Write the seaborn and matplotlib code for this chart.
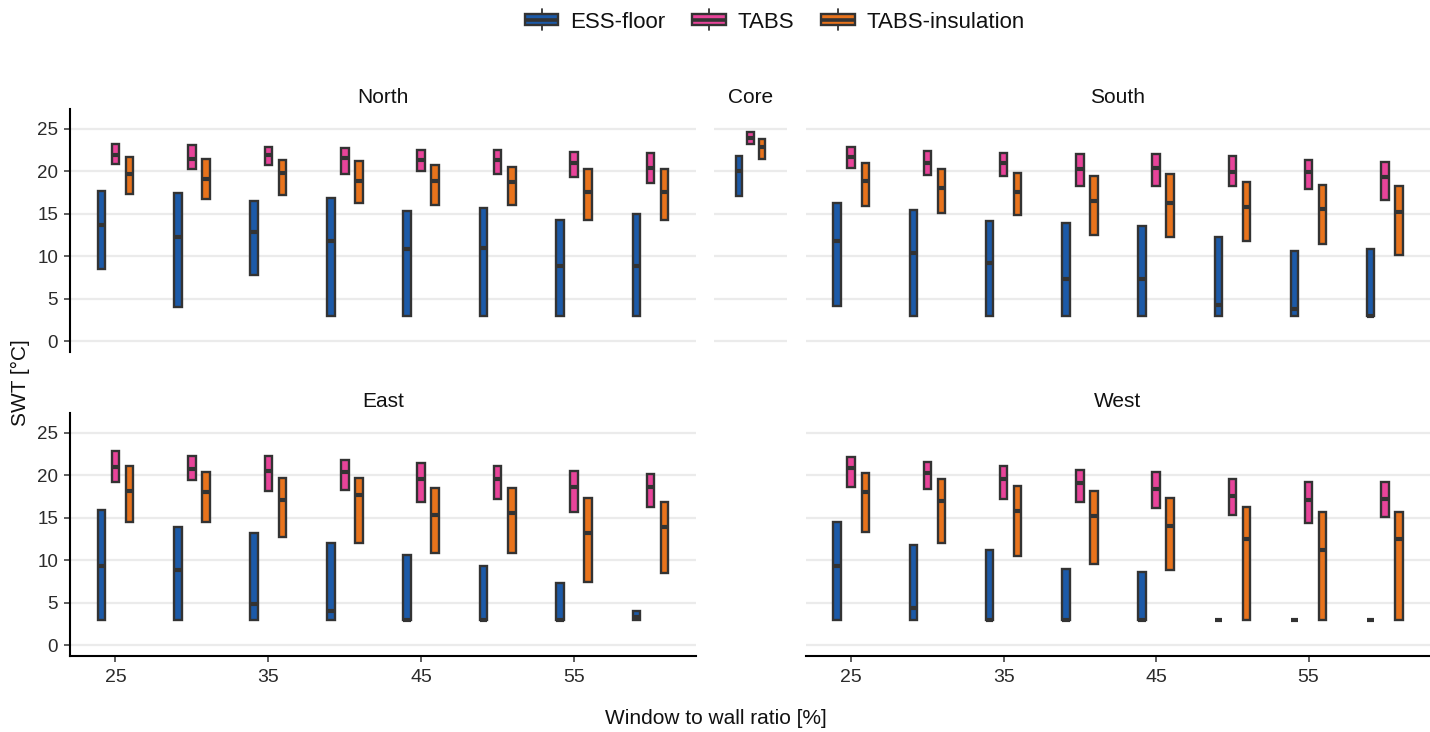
import numpy as np
import pandas as pd
import matplotlib
matplotlib.use("Agg")
import matplotlib.pyplot as plt
from matplotlib.legend_handler import HandlerBase
from matplotlib.patches import Rectangle, Patch
from matplotlib.lines import Line2D
import seaborn as sns

sns.set_theme(style="white")
plt.rcParams["font.family"] = ["Liberation Sans", "DejaVu Sans"]

# ---- data: (low, median, high) supply water temperature per window-to-wall ratio ----
wwr = [25, 30, 35, 40, 45, 50, 55, 60]
systems = ["ESS-floor", "TABS", "TABS-insulation"]
colors = ["#1c5aa8", "#e8449a", "#e8731c"]

north_ess = [(8.55, 13.67, 17.66), (4.0, 12.3, 17.4), (7.8, 12.8, 16.5), (3.0, 11.8, 16.9),
             (3.0, 10.9, 15.35), (3.0, 11.0, 15.7), (3.0, 8.9, 14.3), (3.0, 8.9, 15.0)]
north_tabs = [(20.8, 21.95, 23.2), (20.2, 21.4, 23.1), (20.7, 21.9, 22.8), (19.7, 21.5, 22.7),
              (20.0, 21.3, 22.5), (19.7, 21.3, 22.5), (19.3, 21.0, 22.3), (18.6, 20.4, 22.1)]
north_ins = [(17.3, 19.65, 21.7), (16.7, 19.1, 21.4), (17.15, 19.8, 21.25), (16.2, 18.8, 21.2),
             (16.0, 18.8, 20.7), (16.0, 18.7, 20.5), (14.2, 17.5, 20.2), (14.2, 17.5, 20.2)]

core_ess = [(17.05, 20.0, 21.8)]
core_tabs = [(23.2, 23.9, 24.65)]
core_ins = [(21.4, 22.8, 23.8)]

south_ess = [(4.15, 11.8, 16.3), (3.0, 10.4, 15.4), (3.0, 9.25, 14.1), (3.0, 7.35, 13.9),
             (3.0, 7.35, 13.55), (3.0, 4.3, 12.3), (3.0, 3.8, 10.6), (3.0, 3.0, 10.9)]
south_tabs = [(20.35, 21.7, 22.8), (19.5, 21.0, 22.4), (19.4, 21.0, 22.1), (18.2, 20.3, 22.0),
              (18.2, 20.4, 22.0), (18.2, 19.9, 21.75), (17.85, 19.9, 21.3), (16.55, 19.3, 21.05)]
south_ins = [(15.9, 18.8, 20.9), (15.1, 18.0, 20.2), (14.8, 17.5, 19.8), (12.5, 16.5, 19.4),
             (12.3, 16.3, 19.7), (11.8, 15.8, 18.75), (11.4, 15.6, 18.4), (10.1, 15.2, 18.25)]

east_ess = [(3.0, 9.3, 15.85), (3.0, 8.85, 13.9), (3.0, 4.9, 13.2), (3.0, 4.0, 12.0),
            (3.0, 3.0, 10.6), (3.0, 3.0, 9.3), (3.0, 3.0, 7.35), (3.0, 3.3, 4.0)]
east_tabs = [(19.2, 21.0, 22.8), (19.45, 20.7, 22.3), (18.1, 20.5, 22.2), (18.3, 20.4, 21.8),
             (16.9, 19.6, 21.45), (17.25, 19.55, 21.05), (15.7, 18.55, 20.5), (16.2, 18.55, 20.15)]
east_ins = [(14.45, 18.1, 21.05), (14.45, 18.0, 20.4), (12.7, 17.1, 19.7), (12.0, 17.65, 19.65),
            (10.85, 15.3, 18.5), (10.85, 15.5, 18.5), (7.5, 13.25, 17.3), (8.45, 13.9, 16.8)]

west_ess = [(3.0, 9.3, 14.5), (3.0, 4.4, 11.85), (3.0, 3.0, 11.15), (3.0, 3.0, 8.95),
            (3.0, 3.0, 8.6), (3.0, 3.0, 3.0), (3.0, 3.0, 3.0), (3.0, 3.0, 3.0)]
west_tabs = [(18.6, 20.8, 22.1), (18.35, 20.3, 21.5), (17.15, 19.55, 21.1), (16.8, 19.1, 20.6),
             (16.15, 18.4, 20.35), (15.35, 17.55, 19.5), (14.4, 17.05, 19.25), (15.1, 17.25, 19.2)]
west_ins = [(13.35, 18.0, 20.2), (12.0, 17.0, 19.5), (10.5, 15.8, 18.7), (9.6, 15.2, 18.1),
            (8.9, 14.0, 17.35), (3.0, 12.55, 16.3), (3.0, 11.2, 15.65), (3.0, 12.55, 15.65)]

y_ticks = [0, 5, 10, 15, 20, 25]
x_ticks = [25, 35, 45, 55]

palette = dict(zip(systems, colors))
EDGE = "#333333"
TXT = "#2b2b2b"
TITLE = "#111111"


def long_frame(series, positions):
    """Expand (low, median, high) triples so quartiles land on low/high."""
    rows = []
    for system, stats in zip(systems, series):
        for pos, (lo, med, hi) in zip(positions, stats):
            for v in (lo, lo, med, hi, hi):
                rows.append({"x": pos, "system": system, "swt": v})
    return pd.DataFrame(rows)


W, H = 1430, 732
fig = plt.figure(figsize=(W / 100, H / 100), dpi=100)


def add_ax(x0, x1, y0, y1):
    return fig.add_axes([x0 / W, 1 - y1 / H, (x1 - x0) / W, (y1 - y0) / H])


box_kw = dict(hue="system", hue_order=systems, palette=palette, saturation=1,
              linecolor=EDGE, linewidth=1.7, whis=1.5, showfliers=False,
              showcaps=False, legend=False,
              medianprops=dict(color=EDGE, linewidth=3.0))


def style(ax, title, left, bottom):
    ax.set_ylim(-1.25, 27.3)
    ax.set_yticks(y_ticks)
    ax.yaxis.grid(True, color="#ebebeb", linewidth=1.6)
    ax.xaxis.grid(False)
    ax.set_axisbelow(True)
    ax.set_xlabel("")
    ax.set_ylabel("")
    for s in ax.spines.values():
        s.set_visible(False)
    if left:
        ax.spines["left"].set_visible(True)
        ax.spines["left"].set_color("black")
        ax.spines["left"].set_linewidth(1.5)
        ax.tick_params(axis="y", left=True, length=4.5, width=1.1, color=EDGE,
                       labelsize=13.5, labelcolor=TXT, pad=4)
    else:
        ax.tick_params(axis="y", left=False, labelleft=False)
    if bottom:
        ax.spines["bottom"].set_visible(True)
        ax.spines["bottom"].set_color("black")
        ax.spines["bottom"].set_linewidth(1.5)
        ax.set_xticks(x_ticks)
        ax.set_xticklabels([str(t) for t in x_ticks])
        ax.tick_params(axis="x", bottom=True, length=4.5, width=1.1, color=EDGE,
                       labelsize=14, labelcolor=TXT, pad=5)
    else:
        ax.tick_params(axis="x", bottom=False, labelbottom=False)
    ax.annotate(title, xy=(0.5, 1), xycoords="axes fraction", xytext=(0, 4),
                textcoords="offset points", ha="center", va="baseline",
                fontsize=15, color=TITLE)


TOP = (109, 352)
BOT = (413, 656)

panels = [
    ("North", (70, 696), TOP, (north_ess, north_tabs, north_ins), True, False),
    ("South", (806, 1430), TOP, (south_ess, south_tabs, south_ins), False, False),
    ("East", (70, 696), BOT, (east_ess, east_tabs, east_ins), True, True),
    ("West", (806, 1430), BOT, (west_ess, west_tabs, west_ins), False, True),
]

for name, (x0, x1), (y0, y1), series, left, bottom in panels:
    ax = add_ax(x0, x1, y0, y1)
    df = long_frame(series, wwr)
    sns.boxplot(data=df, x="x", y="swt", native_scale=True, width=0.552, gap=0.46,
                ax=ax, **box_kw)
    ax.set_xlim(22.03, 62.97)
    style(ax, name, left, bottom)

# Core zone: a single narrow panel between North and South
ax = add_ax(714, 787, *TOP)
df = long_frame((core_ess, core_tabs, core_ins), ["Core"])
sns.boxplot(data=df, x="x", y="swt", width=0.5625, gap=0.43, ax=ax, **box_kw)
ax.set_xlim(-0.6, 0.6)
style(ax, "Core", False, False)


class BoxKey(HandlerBase):
    def create_artists(self, legend, orig_handle, xdescent, ydescent,
                       width, height, fontsize, trans):
        x0, y0 = -xdescent, -ydescent
        bh = height * 0.72
        by = y0 + (height - bh) / 2
        cx = x0 + width / 2
        whisk = Line2D([cx, cx], [y0 - height * 0.18, y0 + height * 1.18],
                       color=EDGE, linewidth=1.3, transform=trans)
        rect = Rectangle((x0, by), width, bh, facecolor=orig_handle.get_facecolor(),
                         edgecolor=EDGE, linewidth=1.7, transform=trans)
        med = Line2D([x0, x0 + width], [y0 + height / 2] * 2, color=EDGE,
                     linewidth=2.6, solid_capstyle="butt", transform=trans)
        return [whisk, rect, med]


handles = [Patch(facecolor=c, edgecolor=EDGE) for c in colors]
fig.legend(handles, systems, handler_map={Patch: BoxKey()}, loc="center",
           bbox_to_anchor=(775 / W, 1 - 22 / H), ncol=3, frameon=False,
           fontsize=16, handlelength=1.5, handleheight=0.7, handletextpad=0.55,
           columnspacing=1.2, labelcolor=TITLE)

fig.text(716 / W, 1 - 719 / H, "Window to wall ratio [%]", ha="center", va="center",
         fontsize=15, color=TITLE)
fig.text(20 / W, 1 - 383 / H, "SWT [°C]", ha="center", va="center", rotation=90,
         fontsize=15, color=TITLE)

fig.savefig("out.png", dpi=100)
